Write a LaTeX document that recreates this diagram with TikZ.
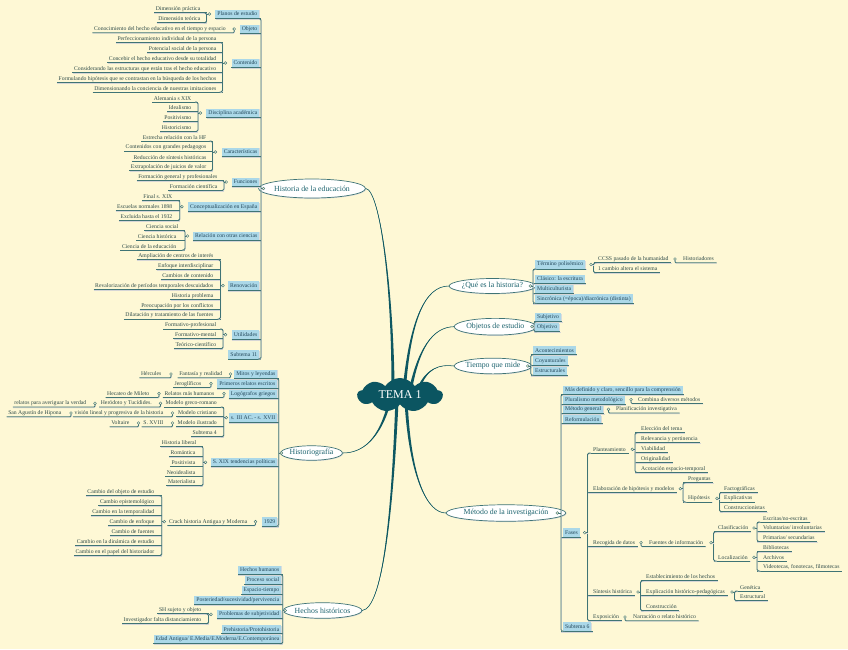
\documentclass[tikz,border=0pt]{standalone}
\usepackage{fontspec}
\setmainfont{Liberation Serif}
\usetikzlibrary{shapes.geometric,shapes.symbols,calc}
\definecolor{bgc}{HTML}{FEF8D5}
\definecolor{boxf}{HTML}{ABD8E8}
\definecolor{linec}{HTML}{3F7475}
\definecolor{curvec}{HTML}{0E5862}
\definecolor{temac}{HTML}{0B5561}
\definecolor{leafc}{HTML}{2E4A48}
\definecolor{boxc}{HTML}{23475A}
\definecolor{topicc}{HTML}{1C636E}
\newcommand\fs{\fontsize{5.7}{6}\selectfont}
\newcommand\ft{\fontsize{7.8}{8.5}\selectfont}
\tikzset{
 lf/.style={font=\fs, text=leafc, inner xsep=1.5pt, inner ysep=0pt, minimum height=7pt},
 lfL/.style={lf, anchor=east},
 lfR/.style={lf, anchor=west},
 bxs/.style={font=\fs, text=boxc, fill=boxf, inner xsep=2pt, inner ysep=0pt, minimum height=8.5pt, preaction={fill=black!14, transform canvas={shift={(0.5pt,-0.5pt)}}}},
 bxL/.style={bxs, anchor=east},
 bxR/.style={bxs, anchor=west},
 ln/.style={draw=linec, line width=0.8pt, preaction={draw=black!16, line width=0.6pt, transform canvas={shift={(0.3pt,-0.7pt)}}}},
 dt/.style={circle, draw=linec, fill=bgc, line width=0.45pt, inner sep=0pt, minimum size=2.8pt},
 topic/.style={ellipse, draw=linec, fill=white, line width=0.7pt, font=\ft, text=topicc, inner sep=0pt, preaction={fill=black!15, transform canvas={shift={(0.6pt,-0.8pt)}}}},
}
% dot coordinate
\newcommand\dd[3]{\coordinate (#1-d) at (#2,#3);}
% left group: parent, bracket x, first, last, list
\newcommand\LG[5]{%
 \coordinate (#1-b) at (#2,0);
 \foreach \c in {#5} {\draw[ln] (\c.south west) -- (\c.south west -| #1-b);}
 \draw[ln, rounded corners=1.5pt] ($(#3.south west -| #1-b)+(-3,0)$) -- (#3.south west -| #1-b) -- (#4.south west -| #1-b) -- ($(#4.south west -| #1-b)+(-3,0)$);
 \draw[ln] (#1-b |- #1-d) -- (#1-d);
 \node[dt] (#1-o) at (#1-d) {};
}
% right group
\newcommand\RG[5]{%
 \coordinate (#1-b) at (#2,0);
 \foreach \c in {#5} {\draw[ln] (\c.south west -| #1-b) -- ($(\c.south east)+(1,0)$);}
 \draw[ln, rounded corners=1.5pt] ($(#3.south west -| #1-b)+(3,0)$) -- (#3.south west -| #1-b) -- (#4.south west -| #1-b) -- ($(#4.south west -| #1-b)+(3,0)$);
 \draw[ln] (#1-d) -- (#1-b |- #1-d);
 \node[dt] (#1-o) at (#1-d) {};
}
% single child left / right
\newcommand\LS[2]{%
 \draw[ln, rounded corners=1pt] (#2.south west) -- (#2.south west -| #1-d) -- (#1-d);
 \node[dt] (#1-o) at (#1-d) {};
}
\newcommand\RS[2]{%
 \draw[ln, rounded corners=1pt] (#1-d) -- (#1-d |- #2.south) -- ($(#2.south east)+(1,0)$);
 \node[dt] (#1-o) at (#1-d) {};
}
% tapered main branch: start offset from tc, c1, c2, end
\newcommand\branch[4]{%
 \fill[curvec] ($(tc)+(#1)+(-1.6,0)$) .. controls ($(#2)+(-0.8,0)$) and (#3) .. (#4) .. controls (#3) and ($(#2)+(0.8,0)$) .. ($(tc)+(#1)+(1.6,0)$) -- cycle;
 \draw[curvec, line width=0.55pt] ($(tc)+(#1)$) .. controls (#2) and (#3) .. (#4);
}
\begin{document}
\begin{tikzpicture}[x=1pt,y=-1pt]
\fill[bgc] (0,0) rectangle (848,649);
\useasboundingbox (0,0) rectangle (848,649);

% ---------- topics
\node[topic, minimum width=92pt, minimum height=19pt] (hist) at (312,188.5) {Historia de la educación};
\node[topic, minimum width=57pt, minimum height=14.5pt] (hgr) at (311.5,453) {Historiografía};
\node[topic, minimum width=71.6pt, minimum height=15.6pt] (hech) at (322.5,610.5) {Hechos históricos};
\node[topic, minimum width=71.6pt, minimum height=15pt] (qeh) at (492.5,286) {¿Qué es la historia?};
\node[topic, minimum width=70.7pt, minimum height=16.7pt] (obj) at (495.3,326.7) {Objetos de estudio};
\node[topic, minimum width=64pt, minimum height=15.7pt] (tmp) at (493,366) {Tiempo que mide};
\node[topic, minimum width=98pt, minimum height=16.5pt] (met) at (506,513) {Método de la investigación};

% ---------- main branches
\coordinate (tc) at (400,395);
\branch{-7,-3}{393,290}{380,190}{hist.east}
\branch{4,-3}{410,320}{425,286}{qeh.west}
\branch{10,-3}{418,350}{432,327}{obj.west}
\branch{18,-5}{426,368}{440,364}{tmp.west}
\branch{-10,5}{380,440}{362,453}{hgr.east}
\branch{6,5}{410,480}{428,513}{met.west}
\branch{-3,5}{392,520}{382,608}{hech.east}
\node[cloud, cloud puffs=9, cloud puff arc=115, cloud ignores aspect, minimum width=85pt, minimum height=34pt, inner sep=0pt, fill=temac, text=white, font=\fontsize{12}{14}\selectfont] (tema) at (tc) {TEMA 1};

% ================= Historia de la educación
\node[bxL] (bPlanos) at (259.5,14) {Planos de estudio};
\node[bxL] (bObjeto) at (259.5,29) {Objeto};
\node[bxL] (bCont) at (259.5,63) {Contenido};
\node[bxL] (bDisc) at (259.5,113) {Disciplina académica};
\node[bxL] (bCar) at (259.5,152) {Características};
\node[bxL] (bFun) at (259.5,182) {Funciones};
\node[bxL] (bCon) at (259.5,206.7) {Conceptualización en España};
\node[bxL] (bRel) at (259.5,236) {Relación con otras ciencias};
\node[bxL] (bRen) at (259.5,285.7) {Renovación};
\node[bxL] (bUti) at (259.5,334.7) {Utilidades};
\node[bxL] (bSub11) at (259.5,354.5) {Subtema 11};
\dd{hist}{263.5}{188.5}
\LG{hist}{261}{bPlanos}{bSub11}{bPlanos,bObjeto,bCont,bDisc,bCar,bFun,bCon,bRel,bRen,bUti,bSub11}

\node[lfL] (dp) at (202,9) {Dimensión práctica};
\node[lfL] (dtc) at (202,19) {Dimensión teórica};
\dd{bPlanos}{209.3}{14}
\LG{bPlanos}{206.5}{dp}{dtc}{dp,dtc}

\node[lfL] (con) at (227.5,29) {Conocimiento del hecho educativo en el tiempo y espacio};
\dd{bObjeto}{234.2}{29}
\LS{bObjeto}{con}

\node[lfL] (c1) at (218,38.7) {Perfeccionamiento individual de la persona};
\node[lfL] (c2) at (218,48.7) {Potencial social de la persona};
\node[lfL] (c3) at (218,58.7) {Concebir el hecho educativo desde su totalidad};
\node[lfL] (c4) at (218,68.7) {Considerando las estructuras que están tras el hecho educativo};
\node[lfL] (c5) at (218,78.7) {Formulando hipótesis que se contrastan en la búsqueda de los hechos};
\node[lfL] (c6) at (218,88.3) {Dimensionando la conciencia de nuestras imitaciones};
\dd{bCont}{225.3}{63}
\LG{bCont}{222.5}{c1}{c6}{c1,c2,c3,c4,c5,c6}

\node[lfL] (d1) at (193,98.3) {Alemania s XIX};
\node[lfL] (d2) at (193,108) {Idealismo};
\node[lfL] (d3) at (193,118) {Positivismo};
\node[lfL] (d4) at (193,127.7) {Historicismo};
\dd{bDisc}{200.3}{113}
\LG{bDisc}{198}{d1}{d4}{d1,d2,d3,d4}

\node[lfL] (k1) at (208,137.3) {Estrecha relación con la HF};
\node[lfL] (k2) at (208,147.3) {Contenidos con grandes pedagogos};
\node[lfL] (k3) at (208,157.3) {Reducción de síntesis históricas};
\node[lfL] (k4) at (208,167) {Extrapolación de juicios de valor};
\dd{bCar}{215.3}{152}
\LG{bCar}{212.5}{k1}{k4}{k1,k2,k3,k4}

\node[lfL] (f1) at (219,176.7) {Formación general y profesionales};
\node[lfL] (f2) at (219,186.7) {Formación científica};
\dd{bFun}{226.2}{182}
\LG{bFun}{224}{f1}{f2}{f1,f2}

\node[lfL] (e1) at (174,196.7) {Final s. XIX};
\node[lfL] (e2) at (174,206.7) {Escuelas normales 1898};
\node[lfL] (e3) at (174,216.7) {Excluida hasta el 1932};
\dd{bCon}{181.9}{206.7}
\LG{bCon}{179.8}{e1}{e3}{e1,e2,e3}

\node[lfL] (r1) at (180,226.7) {Ciencia social};
\node[lfL] (r2) at (178,236.3) {Ciencia histórica};
\node[lfL] (r3) at (178,246.3) {Ciencia de la educación};
\dd{bRel}{187.5}{236}
\LG{bRel}{185}{r1}{r3}{r1,r2,r3}

\node[lfL] (n1) at (215,256) {Ampliación de centros de interés};
\node[lfL] (n2) at (215,266) {Enfoque interdisciplinar};
\node[lfL] (n3) at (215,276) {Cambios de contenido};
\node[lfL] (n4) at (215,285.7) {Revalorización de períodos temporales descuidados};
\node[lfL] (n5) at (215,295.7) {Historia problema};
\node[lfL] (n6) at (215,305.7) {Preocupación por los conflictos};
\node[lfL] (n7) at (215,315.3) {Dilatación y tratamiento de las fuentes};
\dd{bRen}{223}{285.7}
\LG{bRen}{220.5}{n1}{n7}{n1,n2,n3,n4,n5,n6,n7}

\node[lfL] (u1) at (218,325.3) {Formativo-profesional};
\node[lfL] (u2) at (218,335) {Formativo-mental};
\node[lfL] (u3) at (218,345) {Teórico-científico};
\dd{bUti}{225.5}{334.7}
\LG{bUti}{223}{u1}{u3}{u1,u2,u3}

% ================= Historiografía
\node[bxL] (bMit) at (277.5,374) {Mitos y leyendas};
\node[bxL] (bPri) at (277.5,383.7) {Primeros relatos escritos};
\node[bxL] (bLog) at (277.5,393.7) {Logógrafos griegos};
\node[bxL] (bS3) at (277.5,417.7) {s. III AC. - s. XVII};
\node[bxL] (bS19) at (277.5,462.3) {S. XIX tendencias políticas};
\node[bxL] (b29) at (277.5,521.7) {1929};
\dd{hgr}{281.3}{453}
\LG{hgr}{278.7}{bMit}{b29}{bMit,bPri,bLog,bS3,bS19,b29}

\node[lfL] (fr) at (224,374) {Fantasía y realidad};
\node[lfL] (her) at (163,374) {Hércules};
\dd{bMit}{230.5}{374}
\LS{bMit}{fr}
\dd{fr}{171}{374}
\LS{fr}{her}

\node[lfL] (jer) at (203,383.7) {Jeroglíficos};
\dd{bPri}{211}{383.7}
\LS{bPri}{jer}

\node[lfL] (rmh) at (216,393.7) {Relatos más humanos};
\node[lfL] (hec) at (151,393.7) {Hecateo de Mileto};
\dd{bLog}{224}{393.7}
\LS{bLog}{rmh}
\dd{rmh}{159}{393.7}
\LS{rmh}{hec}

\node[lfL] (mgr) at (218.5,403.3) {Modelo greco-romano};
\node[lfL] (mcr) at (218.5,413) {Modelo cristiano};
\node[lfL] (mil) at (218.5,423) {Modelo ilustrado};
\node[lfL] (st4) at (218.5,433) {Subtema 4};
\dd{bS3}{226.3}{417.7}
\LG{bS3}{223.8}{mgr}{st4}{mgr,mcr,mil,st4}

\node[lfL] (hyt) at (153.5,403.3) {Heródoto y Tucídides.};
\node[lfL] (rav) at (88,403.3) {relatos para averiguar la verdad};
\dd{mgr}{160.5}{403.3}
\LS{mgr}{hyt}
\dd{hyt}{95}{403.3}
\LS{hyt}{rav}

\node[lfL] (vis) at (165,413) {visión lineal y progresiva de la historia};
\node[lfL] (sag) at (63,413) {San Agustín de Hipona};
\dd{mcr}{172.5}{413}
\LS{mcr}{vis}
\dd{vis}{71}{413}
\LS{vis}{sag}

\node[lfL] (sxv) at (165,423) {S. XVIII};
\node[lfL] (vol) at (131,423) {Voltaire};
\dd{mil}{172.5}{423}
\LS{mil}{sxv}
\dd{sxv}{138.5}{423}
\LS{sxv}{vol}

\node[lfL] (hl) at (198,442.7) {Historia liberal};
\node[lfL] (rom) at (197,452.7) {Romántica};
\node[lfL] (pos) at (197,462.3) {Positivista};
\node[lfL] (neo) at (197,472.3) {Neoidealista};
\node[lfL] (mat) at (197,482) {Materialista};
\dd{bS19}{205.5}{462.3}
\LG{bS19}{203}{hl}{mat}{hl,rom,pos,neo,mat}

\node[lfL] (crack) at (249,521.7) {Crack historia Antigua y Moderna};
\dd{b29}{255.5}{521.7}
\LS{b29}{crack}
\node[lfL] (g1) at (156,492) {Cambio del objeto de estudio};
\node[lfL] (g2) at (156,502) {Cambio epistemológico};
\node[lfL] (g3) at (156,512) {Cambio en la temporalidad};
\node[lfL] (g4) at (156,521.7) {Cambio de enfoque};
\node[lfL] (g5) at (156,531.7) {Cambio de fuentes};
\node[lfL] (g6) at (156,541.7) {Cambio en la dinámica de estudio};
\node[lfL] (g7) at (156,551.7) {Cambio en el papel del historiador};
\dd{crack}{164.3}{521.7}
\LG{crack}{161.8}{g1}{g7}{g1,g2,g3,g4,g5,g6,g7}

% ================= Hechos históricos
\node[bxL] (hh) at (281.5,570) {Hechos humanos};
\node[bxL] (ps) at (281.5,580) {Proceso social};
\node[bxL] (et) at (281.5,590) {Espacio-tiempo};
\node[bxL] (psp) at (281.5,600) {Posteriedad/sucesividad/pervivencia};
\node[bxL] (pds) at (281.5,614.3) {Problemas de subjetividad};
\node[bxL] (pre) at (281.5,629.3) {Prehistoria/Protohistoria};
\node[bxL] (eda) at (281.5,639.3) {Edad Antigua/ E.Media/E.Moderna/E.Contemporánea};
\dd{hech}{285.2}{610.5}
\LG{hech}{282.7}{hh}{eda}{hh,ps,et,psp,pds,pre,eda}

\node[lfL] (shs) at (203,610) {SH sujeto y objeto};
\node[lfL] (inv) at (203,620) {Investigador falta distanciamiento};
\dd{pds}{211}{614.3}
\LG{pds}{208.5}{shs}{inv}{shs,inv}

% ================= ¿Qué es la historia?
\node[bxR] (tp) at (535,264.5) {Término polisémico};
\node[bxR] (cla) at (535,279) {Clásico: la escritura};
\node[bxR] (mul) at (535,288.7) {Multiculturista};
\node[bxR] (sin) at (535,298.7) {Sincrónica (=época)/diacrónica (distinta)};
\dd{qeh}{530.3}{286}
\RG{qeh}{533}{tp}{sin}{tp,cla,mul,sin}

\node[lfR] (ccss) at (596.5,259) {CCSS pasado de la humanidad};
\node[lfR] (cam) at (596.5,269) {1 cambio altera el sistema};
\dd{tp}{591}{264.5}
\RG{tp}{593.5}{ccss}{cam}{ccss,cam}
\node[lfR] (hist2) at (681.5,259) {Historiadores};
\dd{ccss}{675}{259}
\RS{ccss}{hist2}

% ================= Objetos de estudio
\node[bxR] (sub) at (535,317.3) {Subjetivo};
\node[bxR] (objv) at (535,327.3) {Objetivo};
\dd{obj}{532}{326.7}
\RG{obj}{534}{sub}{objv}{sub,objv}

% ================= Tiempo que mide
\node[bxR] (aco) at (533,350.3) {Acontecimientos};
\node[bxR] (coy) at (533,360.7) {Coyunturales};
\node[bxR] (est) at (533,370.7) {Estructurales};
\dd{tmp}{527.8}{366}
\RG{tmp}{530.8}{aco}{est}{aco,coy,est}

% ================= Método de la investigación
\node[bxR] (mdc) at (563,390) {Más definido y claro, sencillo para la comprensión};
\node[bxR] (plu) at (563,399.7) {Pluralismo metodológico};
\node[bxR] (mge) at (563,409.3) {Método general};
\node[bxR] (ref) at (563,419.3) {Reformulación};
\node[bxR] (fas) at (563,532.7) {Fases};
\node[bxR] (sub6) at (563,626.7) {Subtema 6};
\dd{met}{557.3}{513}
\RG{met}{561}{mdc}{sub6}{mdc,plu,mge,ref,fas,sub6}

\node[lfR] (cdm) at (636.5,399.7) {Combina diversos métodos};
\dd{plu}{631}{399.7}
\RS{plu}{cdm}
\node[lfR] (pin) at (614.5,409.3) {Planificación investigativa};
\dd{mge}{608.5}{409.3}
\RS{mge}{pin}

\node[lfR] (pla) at (591.5,449.3) {Planteamiento};
\node[lfR] (ela) at (591.5,488.7) {Elaboración de hipótesis y modelos};
\node[lfR] (rec) at (591.5,542.7) {Recogida de datos};
\node[lfR] (sin2) at (591.5,592) {Síntesis histórica};
\node[lfR] (exo) at (591.5,617) {Exposición};
\dd{fas}{584.7}{532.7}
\RG{fas}{587.5}{pla}{exo}{pla,ela,rec,sin2,exo}

\node[lfR] (pl1) at (639.5,429) {Elección del tema};
\node[lfR] (pl2) at (639.5,439) {Relevancia y pertinencia};
\node[lfR] (pl3) at (639.5,449) {Viabilidad};
\node[lfR] (pl4) at (639.5,459) {Originalidad};
\node[lfR] (pl5) at (639.5,468.7) {Acotación espacio-temporal};
\dd{pla}{632.3}{449.3}
\RG{pla}{635}{pl1}{pl5}{pl1,pl2,pl3,pl4,pl5}

\node[lfR] (pre2) at (686.5,479) {Preguntas};
\node[lfR] (hip) at (686.5,498.3) {Hipótesis};
\dd{ela}{680.3}{488.7}
\RG{ela}{683}{pre2}{hip}{pre2,hip}
\node[lfR] (fac) at (722.5,488.7) {Factográficas};
\node[lfR] (exp) at (722.5,498.3) {Explicativas};
\node[lfR] (cons) at (722.5,508) {Construccionistas};
\dd{hip}{717}{498.3}
\RG{hip}{719.5}{fac}{cons}{fac,exp,cons}

\node[lfR] (fue) at (647.5,542.7) {Fuentes de información};
\dd{rec}{641}{542.7}
\RS{rec}{fue}
\node[lfR] (cla2) at (716.5,528) {Clasificación};
\node[lfR] (loc) at (716.5,557.3) {Localización};
\dd{fue}{711}{542.7}
\RG{fue}{713.5}{cla2}{loc}{cla2,loc}
\node[lfR] (es1) at (761.5,518.3) {Escritas/no-escritas};
\node[lfR] (es2) at (761.5,528) {Voluntarias/ involuntarias};
\node[lfR] (es3) at (761.5,537.7) {Primarias/ secundarias};
\dd{cla2}{754}{528}
\RG{cla2}{757}{es1}{es3}{es1,es2,es3}
\node[lfR] (lo1) at (761.5,547.7) {Bibliotecas};
\node[lfR] (lo2) at (761.5,557.3) {Archivos};
\node[lfR] (lo3) at (761.5,567.3) {Videotecas, fonotecas, filmotecas};
\dd{loc}{754}{557.3}
\RG{loc}{757}{lo1}{lo3}{lo1,lo2,lo3}

\node[lfR] (sh1) at (644.5,577) {Establecimiento de los hechos};
\node[lfR] (sh2) at (644.5,592) {Explicación histórico-pedagógicas};
\node[lfR] (sh3) at (644.5,607) {Construcción};
\dd{sin2}{638}{592}
\RG{sin2}{640.5}{sh1}{sh3}{sh1,sh2,sh3}
\node[lfR] (gen) at (738.5,587.3) {Genética};
\node[lfR] (estr) at (738.5,597) {Estructural};
\dd{sh2}{732}{592}
\RG{sh2}{734.5}{gen}{estr}{gen,estr}

\node[lfR] (nar) at (631.5,617) {Narración o relato histórico};
\dd{exo}{625}{617}
\RS{exo}{nar}
\end{tikzpicture}
\end{document}
